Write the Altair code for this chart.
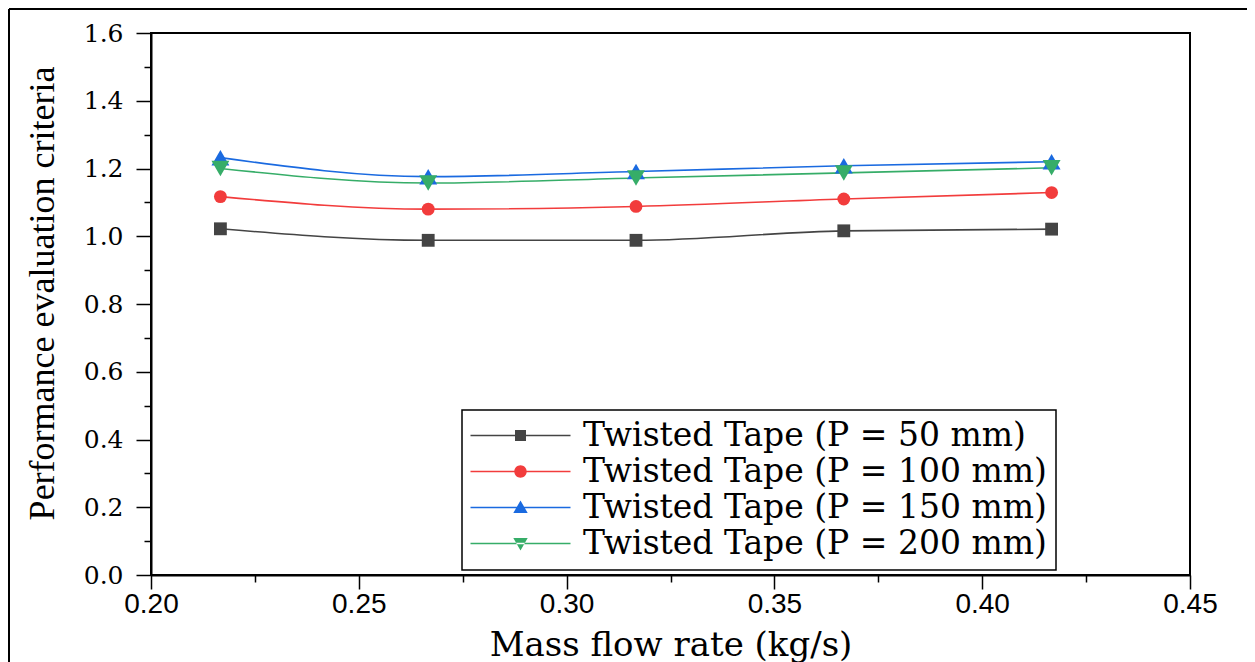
import altair as alt
import pandas as pd

# ---- data ----
mass_flow = [0.2167, 0.2667, 0.3167, 0.3667, 0.4167]
series_names = [
    "Twisted Tape (P = 50 mm)",
    "Twisted Tape (P = 100 mm)",
    "Twisted Tape (P = 150 mm)",
    "Twisted Tape (P = 200 mm)",
]
pec_p50 = [1.022, 0.988, 0.988, 1.016, 1.021]
pec_p100 = [1.117, 1.080, 1.088, 1.110, 1.129]
pec_p150 = [1.232, 1.176, 1.191, 1.208, 1.220]
pec_p200 = [1.200, 1.157, 1.172, 1.187, 1.202]

x_tick_values = [0.2, 0.225, 0.25, 0.275, 0.3, 0.325, 0.35, 0.375, 0.4, 0.425, 0.45]
y_tick_values = [round(i * 0.1, 1) for i in range(17)]

# ---- styles ----
series_colors = ["#444444", "#f23c3c", "#1a6ae0", "#36ad68"]
marker_shapes = ["square", "circle", "triangle-up", "triangle-down"]
legend_paths = [
    "M-5,-0.08H5V0.08H-5Z M-0.55,-0.55H0.55V0.55H-0.55Z",
    "M-5,-0.08H5V0.08H-5Z M0.62,0A0.62,0.62 0 1,1 -0.62,0A0.62,0.62 0 1,1 0.62,0Z",
    "M-5,-0.08H5V0.08H-5Z M0,-0.7L0.72,0.55L-0.72,0.55Z",
    "M-5,-0.08H5V0.08H-5Z M0,0.7L0.72,-0.55L-0.72,-0.55Z",
]

rows = []
for name, vals in zip(series_names, [pec_p50, pec_p100, pec_p150, pec_p200]):
    for xv, yv in zip(mass_flow, vals):
        rows.append({"flow": xv, "pec": yv, "series": name})
df = pd.DataFrame(rows)

W, H = 1039, 542

x_axis = alt.Axis(
    values=x_tick_values,
    labelExpr="round(datum.value*1000) % 50 === 0 ? format(datum.value, '.2f') : ''",
    labelFont="Liberation Sans", labelFontSize=28, labelColor="black",
    labelPadding=1, labelOverlap=False, labelFlush=False,
    tickSize={"condition": {"test": "round(datum.value*1000) % 50 === 0", "value": 14}, "value": 7},
    title="Mass flow rate (kg/s)",
    titleFont="DejaVu Serif", titleFontSize=34, titleFontWeight="normal", titleColor="black",
    titleX=W / 2, titleY=80, titleAlign="center", titleBaseline="alphabetic",
    grid=False,
)
y_axis = alt.Axis(
    values=y_tick_values,
    labelExpr="round(datum.value*10) % 2 === 0 ? format(datum.value, '.1f') : ''",
    labelFont="DejaVu Serif", labelFontSize=25, labelColor="black",
    labelPadding=13, labelOverlap=False, labelFlush=False,
    tickSize={"condition": {"test": "round(datum.value*10) % 2 === 0", "value": 15}, "value": 7},
    title="Performance evaluation criteria",
    titleFont="Liberation Serif", titleFontSize=36, titleFontWeight="normal", titleColor="black",
    titleX=-98, titleY=260, titleAngle=270, titleAlign="center", titleBaseline="alphabetic",
    grid=False,
)

x_enc = alt.X("flow:Q", scale=alt.Scale(domain=[0.2, 0.45], nice=False, zero=False), axis=x_axis)
y_enc = alt.Y("pec:Q", scale=alt.Scale(domain=[0, 1.6], nice=False, zero=False), axis=y_axis)
color_scale = alt.Scale(domain=series_names, range=series_colors)
shape_scale = alt.Scale(domain=series_names, range=marker_shapes)

base = alt.Chart(df)

lines = base.mark_line(interpolate="monotone", strokeWidth=1.6).encode(
    x=x_enc, y=y_enc,
    color=alt.Color("series:N", scale=color_scale, legend=None),
)

points_small = base.transform_filter(
    alt.FieldOneOfPredicate(field="series", oneOf=series_names[:2])
).mark_point(filled=True, opacity=1, size=165).encode(
    x=x_enc, y=y_enc,
    color=alt.Color("series:N", scale=color_scale, legend=None),
    shape=alt.Shape("series:N", scale=shape_scale, legend=None),
)

points_tri = base.transform_filter(
    alt.FieldOneOfPredicate(field="series", oneOf=series_names[2:])
).mark_point(filled=True, opacity=1, size=320).encode(
    x=x_enc, y=y_enc,
    color=alt.Color("series:N", scale=color_scale, legend=None),
    shape=alt.Shape("series:N", scale=shape_scale, legend=None),
)

legend_def = alt.Legend(
    title=None, orient="none", legendX=311, legendY=377,
    labelFont="DejaVu Serif", labelFontSize=33, labelColor="black", labelLimit=800,
    padding=9, rowPadding=2, symbolOffset=33, labelOffset=46,
    symbolSize=400, symbolStrokeWidth=0, symbolOpacity=1,
    strokeColor="black", fillColor="white",
)

legend_layer = base.mark_point(filled=True, size=400, opacity=0).encode(
    x=x_enc, y=y_enc,
    color=alt.Color("series:N", scale=color_scale, legend=legend_def),
    shape=alt.Shape("series:N", scale=alt.Scale(domain=series_names, range=legend_paths), legend=legend_def),
)

frame_left = base.mark_rule(color="black", strokeWidth=2).encode(
    x=alt.value(-142), y=alt.value(-24), y2=alt.value(H + 120)
)
frame_top = base.mark_rule(color="black", strokeWidth=2).encode(
    x=alt.value(-142), x2=alt.value(W + 80), y=alt.value(-24)
)

chart = (
    alt.layer(frame_left, frame_top, lines, points_small, points_tri, legend_layer)
    .resolve_scale(color="independent", shape="independent")
    .properties(
        width=W, height=H,
        autosize=alt.AutoSizeParams(type="none"),
        padding={"left": 143, "top": 25, "right": 57, "bottom": 87},
        background="white",
    )
    .configure_view(stroke="black", strokeWidth=2)
    .configure_axis(domainColor="black", domainWidth=2, tickColor="black", tickWidth=1.5)
    .configure_legend(strokeWidth=1.5)
)

chart.save("out.html", embed_options={"renderer": "svg", "actions": False})
